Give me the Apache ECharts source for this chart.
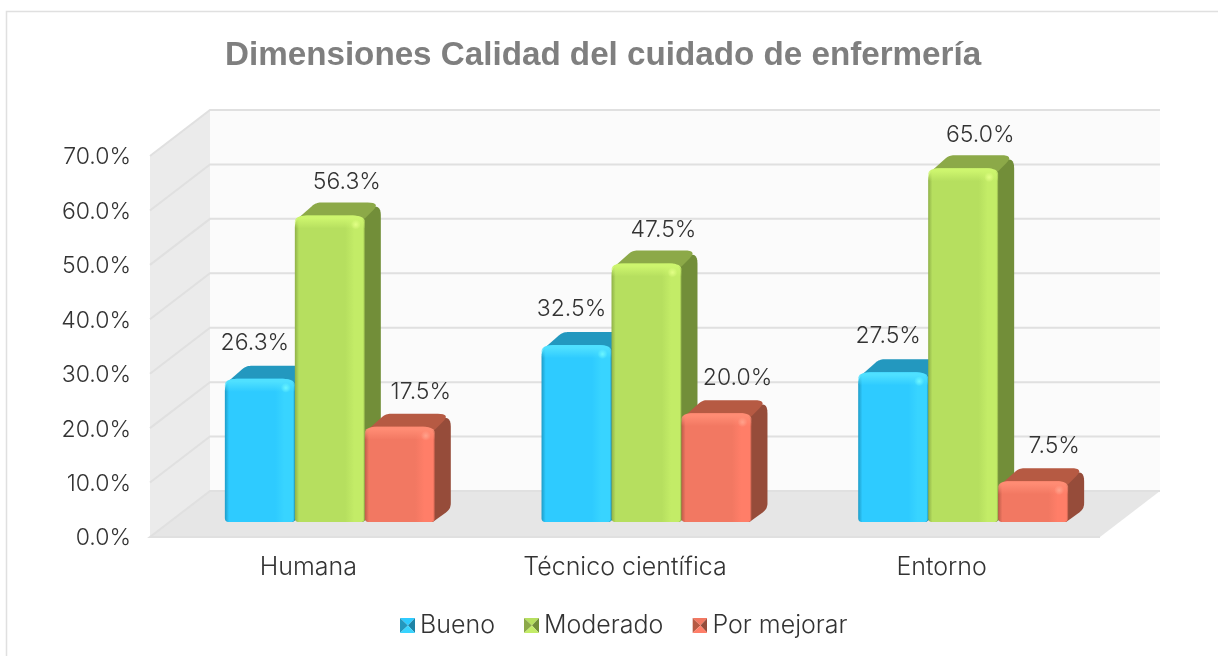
<!DOCTYPE html>
<html>
<head>
<meta charset="utf-8">
<script src="https://cdn.jsdelivr.net/npm/echarts@6/dist/echarts.min.js"></script>
<style>
html,body{margin:0;padding:0;background:#fff}
#main{width:1218px;height:656px}
</style>
</head>
<body>
<div id="main"></div>
<script>
var categories = ['Humana', 'Técnico científica', 'Entorno'];
var bueno = [26.3, 32.5, 27.5];
var moderado = [56.3, 47.5, 65.0];
var porMejorar = [17.5, 20.0, 7.5];
var tickValues = [0, 10, 20, 30, 40, 50, 60, 70];

// colores de cada serie: frente, brillo, borde, tapa, lado
var shades = {
  Bueno: { front: '#2ECBFF', light: '#38D4FF', bevel: '#4FE0FF', edge: '#1E9CC8', top: '#2398BF', side: '#1D83A6', spot: '#6CF6FF' },
  Moderado: { front: '#B6DF5F', light: '#C3EC67', bevel: '#CDF56E', edge: '#8FB048', top: '#8CA948', side: '#728E39', spot: '#E2FF86' },
  'Por mejorar': { front: '#F27862', light: '#FF7E68', bevel: '#FF8C74', edge: '#BE5C49', top: '#B65A43', side: '#964C3A', spot: '#FFA28C' }
};

// profundidad de la pared y de las barras
var wallDx = 60, wallDy = 46;
var barDx = 16, barDy = 13;
var barShiftX = 21.5, barShiftY = 15;
var barRatio = 0.221;
var labelDx = [-5, 17, 21];
var labelDy = [36, 33, 35];
var textFamily = 'Inter';
var textWeight = 300;
var textColor = '#333333';

function grad(horizontal, stops) {
  return new echarts.graphic.LinearGradient(0, 0, horizontal ? 1 : 0, horizontal ? 0 : 1, stops.map(function (s) {
    return { offset: s[0], color: s[1] };
  }));
}

// esquinas redondeadas: radii por vertice
function roundPoly(pts, radii) {
  var out = [];
  var n = pts.length;
  for (var i = 0; i < n; i++) {
    var p = pts[i], a = pts[(i + n - 1) % n], b = pts[(i + 1) % n], r = radii[i];
    if (!r) { out.push(p); continue; }
    var la = Math.hypot(a[0] - p[0], a[1] - p[1]), lb = Math.hypot(b[0] - p[0], b[1] - p[1]);
    var ra = Math.min(r, la / 2), rb = Math.min(r, lb / 2);
    var p0 = [p[0] + (a[0] - p[0]) * ra / la, p[1] + (a[1] - p[1]) * ra / la];
    var p1 = [p[0] + (b[0] - p[0]) * rb / lb, p[1] + (b[1] - p[1]) * rb / lb];
    for (var t = 0; t <= 8; t++) {
      var u = t / 8;
      out.push([
        (1 - u) * (1 - u) * p0[0] + 2 * u * (1 - u) * p[0] + u * u * p1[0],
        (1 - u) * (1 - u) * p0[1] + 2 * u * (1 - u) * p[1] + u * u * p1[1]
      ]);
    }
  }
  return out;
}

function renderWalls(params, api) {
  var fl = api.coord([0, 0]);
  var cs = params.coordSys;
  var left = cs.x, right = cs.x + cs.width;
  var y0 = fl[1], yTop = api.coord([0, tickValues[tickValues.length - 1]])[1];
  return {
    type: 'group',
    children: [
      { type: 'polygon', shape: { points: [[left + wallDx, yTop - wallDy], [right + wallDx, yTop - wallDy], [right + wallDx, y0 - wallDy], [left + wallDx, y0 - wallDy]] }, style: { fill: '#FBFBFB' } },
      { type: 'polygon', shape: { points: [[left, yTop], [left + wallDx, yTop - wallDy], [left + wallDx, y0 - wallDy], [left, y0]] }, style: { fill: '#EBEBEB' } },
      { type: 'polygon', shape: { points: [[left, y0], [left + wallDx, y0 - wallDy], [right + wallDx, y0 - wallDy], [right, y0]] }, style: { fill: '#E6E6E6' } }
    ]
  };
}

function renderGridLine(params, api) {
  var cs = params.coordSys;
  var left = cs.x, right = cs.x + cs.width;
  var y = api.coord([0, api.value(0)])[1];
  var pts = [[left, y], [left + wallDx, y - wallDy], [right + wallDx, y - wallDy]];
  if (api.value(0) === 0) {
    pts = [[right, y], [left, y], [left + wallDx, y - wallDy], [right + wallDx, y - wallDy]];
  }
  return { type: 'polyline', shape: { points: pts }, style: { stroke: '#E0E0E0', lineWidth: 2, fill: null } };
}

function barRenderer(name, seriesPos) {
  var c = shades[name];
  return function (params, api) {
    var catIdx = api.value(0), val = api.value(1);
    var base = api.coord([catIdx, 0]);
    var topPt = api.coord([catIdx, val]);
    var w = api.size([1, 0])[0] * barRatio;
    var x0 = base[0] + barShiftX + (seriesPos - 1) * w - w / 2;
    var x1 = x0 + w;
    var yb = base[1] - barShiftY;
    var yt = topPt[1] - barShiftY;
    var side = roundPoly([[x1 - 8, yt], [x1 + barDx, yt - barDy], [x1 + barDx, yb - barDy], [x1 - 2, yb], [x1 - 8, yb]], [0, 13, 6, 0, 0]);
    var top = roundPoly([[x0 + 3, yt + 3], [x0 + barDx + 5, yt - barDy], [x1 + barDx, yt - barDy], [x1, yt + 3]], [0, 5, 13, 0]);
    var front = roundPoly([[x0, yt], [x1, yt], [x1, yb], [x0, yb]], [12, 12, 4, 4]);
    var bevel = roundPoly([[x0, yt], [x1, yt], [x1, yt + 13], [x0, yt + 13]], [12, 12, 0, 0]);
    return {
      type: 'group',
      children: [
        { type: 'polygon', shape: { points: side }, style: { fill: c.side } },
        { type: 'polygon', shape: { points: top }, style: { fill: c.top } },
        { type: 'polygon', shape: { points: front }, style: {
          fill: grad(true, [[0, c.edge], [0.06, c.front], [0.72, c.front], [0.85, c.light], [0.975, c.light], [1, c.edge]])
        } },
        { type: 'polygon', shape: { points: bevel }, style: {
          fill: grad(false, [[0, c.bevel], [0.2, c.bevel], [1, c.bevel + '00']])
        } },
        { type: 'circle', shape: { cx: x1 - 9, cy: yt + 9, r: 5 }, style: {
          fill: new echarts.graphic.RadialGradient(0.5, 0.5, 0.5, [{ offset: 0, color: c.spot }, { offset: 1, color: c.spot + '00' }])
        } },
        { type: 'text', style: {
          text: val.toFixed(1) + '%',
          x: (x0 + x1) / 2 + labelDx[seriesPos],
          y: yt - labelDy[seriesPos],
          align: 'center', verticalAlign: 'middle',
          font: textWeight + ' 23px ' + textFamily, fill: textColor
        } }
      ]
    };
  };
}

function bevelIcon(c) {
  var svg = '<svg xmlns="http://www.w3.org/2000/svg" width="15" height="15">' +
    '<polygon points="0,0 15,0 8,7.5" fill="' + c.front + '"/>' +
    '<polygon points="0,0 8,7.5 0,15" fill="' + c.top + '"/>' +
    '<polygon points="15,0 15,15 8,7.5" fill="' + c.side + '"/>' +
    '<polygon points="0,15 15,15 8,7.5" fill="' + c.light + '"/>' +
    '</svg>';
  return 'image://data:image/svg+xml;charset=utf-8,' + encodeURIComponent(svg);
}

function toPairs(values) {
  return values.map(function (v, i) { return [i, v]; });
}

var chart = echarts.init(document.getElementById('main'));
chart.setOption({
  animation: false,
  backgroundColor: '#fff',
  title: {
    text: 'Dimensiones Calidad del cuidado de enfermería',
    left: 220,
    top: 34,
    textStyle: { fontFamily: 'Liberation Sans', fontWeight: 'bold', fontSize: 33.2, color: '#7F7F7F' }
  },
  graphic: [
    { type: 'rect', z: -1, shape: { x: 6.5, y: 11.5, width: 1300, height: 800 }, style: { fill: 'none', stroke: '#E0E0E0', lineWidth: 1.5 } }
  ],
  grid: { left: 150, top: 156, width: 950, height: 381 },
  xAxis: {
    type: 'category',
    data: categories,
    axisLine: { show: false },
    axisTick: { show: false },
    axisLabel: { color: textColor, fontFamily: textFamily, fontWeight: textWeight, fontSize: 25, margin: 18 }
  },
  yAxis: {
    type: 'value',
    min: 0,
    max: 70,
    interval: 10,
    splitLine: { show: false },
    axisLine: { show: false },
    axisTick: { show: false },
    axisLabel: {
      color: textColor, fontFamily: textFamily, fontWeight: textWeight, fontSize: 23, margin: 19,
      verticalAlign: 'top',
      lineHeight: 3,
      formatter: function (v) { return v.toFixed(1) + '%'; }
    }
  },
  legend: {
    left: 395,
    top: 608,
    itemWidth: 15,
    itemHeight: 15,
    itemGap: 29,
    selectedMode: false,
    textStyle: { color: textColor, fontFamily: textFamily, fontWeight: textWeight, fontSize: 25 },
    data: [
      { name: 'Bueno', icon: bevelIcon(shades.Bueno) },
      { name: 'Moderado', icon: bevelIcon(shades.Moderado) },
      { name: 'Por mejorar', icon: bevelIcon(shades['Por mejorar']) }
    ]
  },
  series: [
    { type: 'custom', silent: true, z: 1, data: [[0]], renderItem: renderWalls, encode: { x: -1, y: -1 }, clip: false },
    { type: 'custom', silent: true, z: 1, data: tickValues.map(function (t) { return [t]; }), renderItem: renderGridLine, encode: { x: -1, y: 0 }, clip: false },
    { name: 'Bueno', type: 'custom', z: 3, data: toPairs(bueno), renderItem: barRenderer('Bueno', 0), encode: { x: 0, y: 1 }, clip: false },
    { name: 'Moderado', type: 'custom', z: 4, data: toPairs(moderado), renderItem: barRenderer('Moderado', 1), encode: { x: 0, y: 1 }, clip: false },
    { name: 'Por mejorar', type: 'custom', z: 5, data: toPairs(porMejorar), renderItem: barRenderer('Por mejorar', 2), encode: { x: 0, y: 1 }, clip: false }
  ]
});
</script>
</body>
</html>
